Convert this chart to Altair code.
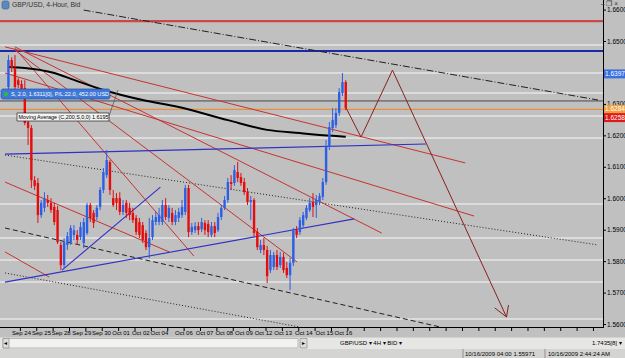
import altair as alt
import pandas as pd

FONT = "Liberation Sans"

# ---------------- data ----------------
bar_index = list(range(104))
opens = [1.6355, 1.6441, 1.6416, 1.6377, 1.6365, 1.6352, 1.6244, 1.6225, 1.6059, 1.6050,
         1.5948, 1.5971, 1.5996, 1.5987, 1.5974, 1.5964, 1.5853, 1.5789, 1.5853, 1.5862,
         1.5885, 1.5885, 1.5878, 1.5859, 1.5891, 1.5980, 1.5955, 1.5942, 1.5974, 1.6028,
         1.6075, 1.6117, 1.6002, 1.6002, 1.6002, 1.5958, 1.5987, 1.5971, 1.5955, 1.5939,
         1.5926, 1.5916, 1.5891, 1.5846, 1.5878, 1.5926, 1.5926, 1.5926, 1.5980, 1.5939,
         1.5955, 1.5926, 1.5939, 1.5948, 1.5958, 1.6034, 1.5894, 1.5900, 1.5913, 1.5903,
         1.5923, 1.5920, 1.5885, 1.5913, 1.5900, 1.5942, 1.5971, 1.5996, 1.6053, 1.6050,
         1.6085, 1.6069, 1.6053, 1.6021, 1.5990, 1.5996, 1.5894, 1.5837, 1.5853, 1.5837,
         1.5773, 1.5783, 1.5821, 1.5789, 1.5815, 1.5780, 1.5757, 1.5796, 1.5900, 1.5894,
         1.5916, 1.5939, 1.5964, 1.5990, 1.5980, 1.5990, 1.6006, 1.6053, 1.6165, 1.6225,
         1.6234, 1.6273, 1.6336, 1.6371]
highs = [1.6457, 1.6450, 1.6457, 1.6384, 1.6377, 1.6377, 1.6257, 1.6234, 1.6072, 1.6066,
         1.5996, 1.6021, 1.6012, 1.6002, 1.5987, 1.5977, 1.5862, 1.5875, 1.5894, 1.5916,
         1.5916, 1.5900, 1.5926, 1.5939, 1.5987, 1.5987, 1.5964, 1.5980, 1.6037, 1.6098,
         1.6155, 1.6123, 1.6028, 1.6018, 1.6021, 1.5996, 1.5996, 1.5987, 1.5971, 1.5948,
         1.5939, 1.5926, 1.5900, 1.5939, 1.5948, 1.5958, 1.5971, 1.5996, 1.6002, 1.5980,
         1.5971, 1.5964, 1.5971, 1.5996, 1.6044, 1.6044, 1.5923, 1.5926, 1.5926, 1.5939,
         1.5932, 1.5932, 1.5926, 1.5926, 1.5955, 1.5980, 1.6009, 1.6066, 1.6075, 1.6107,
         1.6117, 1.6082, 1.6066, 1.6034, 1.6009, 1.6002, 1.5907, 1.5869, 1.5875, 1.5850,
         1.5837, 1.5831, 1.5837, 1.5831, 1.5828, 1.5799, 1.5812, 1.5907, 1.5913, 1.5942,
         1.5958, 1.5980, 1.6002, 1.6018, 1.6012, 1.6018, 1.6066, 1.6187, 1.6244, 1.6288,
         1.6288, 1.6352, 1.6400, 1.6377]
lows = [1.6346, 1.6403, 1.6346, 1.6352, 1.6340, 1.6234, 1.6171, 1.6034, 1.6028, 1.5923,
        1.5939, 1.5958, 1.5974, 1.5955, 1.5916, 1.5856, 1.5773, 1.5780, 1.5837, 1.5853,
        1.5869, 1.5853, 1.5869, 1.5843, 1.5885, 1.5926, 1.5907, 1.5932, 1.5964, 1.6018,
        1.6066, 1.6012, 1.5974, 1.5964, 1.5948, 1.5948, 1.5939, 1.5932, 1.5923, 1.5885,
        1.5875, 1.5859, 1.5837, 1.5811, 1.5869, 1.5916, 1.5916, 1.5916, 1.5932, 1.5926,
        1.5916, 1.5916, 1.5926, 1.5939, 1.5948, 1.5878, 1.5885, 1.5891, 1.5885, 1.5894,
        1.5885, 1.5878, 1.5878, 1.5878, 1.5894, 1.5932, 1.5964, 1.5987, 1.6028, 1.6041,
        1.6053, 1.6041, 1.6012, 1.5980, 1.5932, 1.5881, 1.5837, 1.5827, 1.5821, 1.5732,
        1.5764, 1.5773, 1.5773, 1.5780, 1.5764, 1.5748, 1.5710, 1.5786, 1.5875, 1.5885,
        1.5907, 1.5932, 1.5958, 1.5942, 1.5939, 1.5980, 1.5996, 1.6044, 1.6155, 1.6212,
        1.6225, 1.6263, 1.6327, 1.6282]
closes = [1.6441, 1.6416, 1.6355, 1.6362, 1.6349, 1.6241, 1.6225, 1.6059, 1.6041, 1.5948,
          1.5987, 1.6002, 1.5987, 1.5964, 1.5926, 1.5862, 1.5789, 1.5862, 1.5881, 1.5907,
          1.5900, 1.5869, 1.5910, 1.5926, 1.5980, 1.5939, 1.5923, 1.5971, 1.6028, 1.6085,
          1.6123, 1.6028, 1.5980, 1.5987, 1.5958, 1.5980, 1.5955, 1.5948, 1.5932, 1.5894,
          1.5885, 1.5869, 1.5846, 1.5875, 1.5932, 1.5942, 1.5948, 1.5980, 1.5942, 1.5971,
          1.5926, 1.5948, 1.5958, 1.5974, 1.6034, 1.5894, 1.5910, 1.5913, 1.5900, 1.5926,
          1.5900, 1.5894, 1.5913, 1.5891, 1.5942, 1.5971, 1.5996, 1.6053, 1.6047, 1.6091,
          1.6066, 1.6050, 1.6021, 1.5990, 1.5996, 1.5891, 1.5846, 1.5853, 1.5837, 1.5754,
          1.5821, 1.5821, 1.5783, 1.5815, 1.5773, 1.5757, 1.5796, 1.5900, 1.5885, 1.5932,
          1.5948, 1.5971, 1.5987, 1.5974, 1.5996, 1.6009, 1.6053, 1.6165, 1.6228, 1.6250,
          1.6273, 1.6339, 1.6371, 1.6288]

# moving average (200, simple)
ma_index = [0, 5, 14, 20, 29, 41, 52, 67, 79, 89, 99, 103]
ma_value = [1.6419, 1.6416, 1.6400, 1.6378, 1.6346, 1.6314, 1.6292, 1.6250, 1.6219, 1.6209, 1.6200, 1.6197]

# date labels on the time axis (bar position of each label)
date_labels = ["Sep 24", "Sep 25", "Sep 28", "Sep 29", "Sep 30", "Oct 01", "Oct 02", "Oct 04",
               "Oct 06", "Oct 07", "Oct 08", "Oct 09", "Oct 12", "Oct 13", "Oct 14", "Oct 15", "Oct 16"]
date_pos = [4.0, 10.1, 16.1, 22.4, 28.4, 34.4, 40.4, 46.1, 53.6, 59.9, 65.9, 71.9, 77.9, 83.9, 90.2, 96.5, 102.3]

price_ticks = [1.56, 1.57, 1.58, 1.59, 1.60, 1.61, 1.62, 1.63, 1.64, 1.65, 1.66]
# 1.6400 is hidden under the bid box in the reference
price_labels = [1.56, 1.57, 1.58, 1.59, 1.60, 1.61, 1.62, 1.63, 1.65, 1.66]

# light horizontal lines
light_levels = [1.6489, 1.6400, 1.6336, 1.6263, 1.6193, 1.5983, 1.5875, 1.5805, 1.5735, 1.5618]
# coloured horizontal lines
level_price = [1.6565, 1.6470, 1.6311, 1.6284]
level_color = ["#cc4848", "#1c2aa8", "#4a4a4a", "#e8913a"]
level_width = [2.2, 2.0, 1.0, 1.3]

# red trend lines (bar index, price) -> (bar index, price)
red_x1 = [-1.05, -1.05, 1.95, 1.95, -1.05, -1.05, 1.95]
red_p1 = [1.6483, 1.6400, 1.6483, 1.6479, 1.6053, 1.5831, 1.6473]
red_x2 = [139.49, 142.19, 113.96, 56.61, 49.10, 12.46, 88.14]
red_p2 = [1.6114, 1.5945, 1.5891, 1.5818, 1.5831, 1.5751, 1.5799]

# blue trend lines
blue_x1 = [-1.05, -1.05, 16.37]
blue_p1 = [1.6142, 1.5735, 1.5773]
blue_x2 = [127.48, 105.56, 46.40]
blue_p2 = [1.6174, 1.5936, 1.6037]

# black channel lines
dd_x1 = [22.97]; dd_p1 = [1.6600]; dd_x2 = [180.03]; dd_p2 = [1.6314]          # dash-dot
dot_x1 = [-1.05, -1.05]; dot_p1 = [1.6139, 1.5764]
dot_x2 = [180.03, 89.04]; dot_p2 = [1.5853, 1.5592]                              # dotted
dash_x1 = [-1.05]; dash_p1 = [1.5907]; dash_x2 = [133.18]; dash_p2 = [1.5589]  # dashed

# projected path (brown zig-zag with arrow)
proj_x = [103.15, 107.66, 117.27, 152.10]
proj_p = [1.6288, 1.6196, 1.6409, 1.5624]
barb_x2 = [148.50, 152.70]
barb_p2 = [1.5653, 1.5662]

# price boxes on the right scale
box_price = [1.6397, 1.6284, 1.6258]
box_text = ["1.6397[3]", "1.6284[4]", "1.6258[0]"]
box_color = ["#3a6fe0", "#f0a040", "#e01818"]

# ---------------- frames ----------------
cdf = pd.DataFrame({"i": bar_index, "o": opens, "h": highs, "l": lows, "c": closes})
cdf["dir"] = ["up" if c >= o else "down" for o, c in zip(opens, closes)]
ma_df = pd.DataFrame({"i": ma_index, "v": ma_value})
date_df = pd.DataFrame({"i": date_pos, "t": date_labels})
light_df = pd.DataFrame({"p": light_levels})
lvl_df = pd.DataFrame({"p": level_price, "col": level_color, "w": level_width})
red_df = pd.DataFrame({"x1": red_x1, "p1": red_p1, "x2": red_x2, "p2": red_p2})
blue_df = pd.DataFrame({"x1": blue_x1, "p1": blue_p1, "x2": blue_x2, "p2": blue_p2})
dd_df = pd.DataFrame({"x1": dd_x1, "p1": dd_p1, "x2": dd_x2, "p2": dd_p2})
dot_df = pd.DataFrame({"x1": dot_x1, "p1": dot_p1, "x2": dot_x2, "p2": dot_p2})
dash_df = pd.DataFrame({"x1": dash_x1, "p1": dash_p1, "x2": dash_x2, "p2": dash_p2})
proj_df = pd.DataFrame({"x": proj_x, "p": proj_p, "k": list(range(len(proj_x)))})
barb_df = pd.DataFrame({"x1": [proj_x[-1]] * 2, "p1": [proj_p[-1]] * 2, "x2": barb_x2, "p2": barb_p2})
half = 0.00142
box_df = pd.DataFrame({"p": box_price, "t": box_text, "col": box_color})
box_df["lo"] = box_df["p"] - half
box_df["hi"] = box_df["p"] + half
ptick_df = pd.DataFrame({"p": price_ticks})
plabel_df = pd.DataFrame({"p": price_labels})
xtick_df = pd.DataFrame({"i": [3.65 + 5 * k for k in range(0, 36)]})

xs = alt.Scale(domain=[-1.05, 180.03], nice=False, zero=False)
ys = alt.Scale(domain=[1.5589, 1.6632], nice=False, zero=False)
W, H = 603, 328


def X(f):
    return alt.X(f, type="quantitative", scale=xs, axis=None)


def Y(f):
    return alt.Y(f, type="quantitative", scale=ys, axis=None)


def segs(df, color, dash=None, width=1.0):
    kw = dict(color=color, strokeWidth=width, clip=True)
    if dash:
        kw["strokeDash"] = dash
    return alt.Chart(df).mark_rule(**kw).encode(
        x=X("x1"), y=Y("p1"), x2="x2:Q", y2="p2:Q")


one = pd.DataFrame({"k": [0]})


def txt(t, x, y, size=7.0, color="#000000", align="left"):
    return alt.Chart(one).mark_text(align=align, baseline="middle", font=FONT,
                                    fontSize=size, color=color).encode(
        x=alt.value(x), y=alt.value(y), text=alt.value(t))


def box(x, x2, y, y2, fill, stroke=None, r=0, sw=1.0):
    kw = dict(fill=fill, cornerRadius=r)
    if stroke:
        kw["stroke"] = stroke
        kw["strokeWidth"] = sw
    return alt.Chart(one).mark_rect(**kw).encode(
        x=alt.value(x), x2=alt.value(x2), y=alt.value(y), y2=alt.value(y2))


def vrule(x, y, y2, color="#000000", w=1.0):
    return alt.Chart(one).mark_rule(color=color, strokeWidth=w).encode(
        x=alt.value(x), y=alt.value(y), y2=alt.value(y2))


def hrule(x, x2, y, color="#000000", w=1.0):
    return alt.Chart(one).mark_rule(color=color, strokeWidth=w).encode(
        x=alt.value(x), x2=alt.value(x2), y=alt.value(y))


# ---------------- layers ----------------
light = alt.Chart(light_df).mark_rule(color="#e6e6e6", strokeWidth=1.5).encode(y=Y("p"))
levels = alt.Chart(lvl_df).mark_rule().encode(
    y=Y("p"), color=alt.Color("col:N", scale=None),
    strokeWidth=alt.StrokeWidth("w:Q", scale=None))

red_lines = segs(red_df, "#c83232", width=1.0)
blue_lines = segs(blue_df, "#3030c4", width=1.1)
dd_lines = segs(dd_df, "#202020", dash=[7, 2, 1, 2], width=1.0)
dot_lines = segs(dot_df, "#202020", dash=[1, 2], width=1.0)
dash_lines = segs(dash_df, "#202020", dash=[5, 3], width=1.0)

ma_line = alt.Chart(ma_df).mark_line(color="#000000", strokeWidth=2, interpolate="monotone").encode(
    x=X("i"), y=Y("v"))

candle_col = alt.Color("dir:N", scale=alt.Scale(domain=["up", "down"], range=["#2c5fe4", "#e40c0c"]),
                       legend=None)
wicks = alt.Chart(cdf).mark_rule(strokeWidth=1).encode(
    x=X("i"), y=Y("l"), y2="h:Q", color=candle_col)
bodies = alt.Chart(cdf).mark_bar(size=2.4).encode(
    x=X("i"), y=Y("o"), y2="c:Q", color=candle_col)

proj = alt.Chart(proj_df).mark_line(color="#8a2020", strokeWidth=1).encode(
    x=X("x"), y=Y("p"), order="k:Q")
barbs = segs(barb_df, "#8a2020", width=1.0)

# hand-drawn axes (MT4 style)
x_domain = hrule(0, 603, 327.5)
x_ticks = alt.Chart(xtick_df).mark_rule(color="#000000").encode(
    x=X("i"), y=alt.value(328), y2=alt.value(331))
dates = alt.Chart(date_df).mark_text(font=FONT, fontSize=6, color="#000000", baseline="middle").encode(
    x=X("i"), y=alt.value(333), text="t:N")
y_domain = vrule(603.5, 0, 328)
y_ticks = alt.Chart(ptick_df).mark_rule(color="#000000").encode(
    x=alt.value(603), x2=alt.value(606), y=Y("p"))
y_labels = alt.Chart(plabel_df).transform_calculate(
    t="format(datum.p, '.4f') + '[0]'"
).mark_text(align="left", baseline="middle", font=FONT, fontSize=6.5, color="#000000").encode(
    x=alt.value(607), y=Y("p"), text="t:N")

pboxes = alt.Chart(box_df).mark_rect().encode(
    x=alt.value(604), x2=alt.value(625), y=Y("hi"), y2="lo:Q",
    color=alt.Color("col:N", scale=None))
ptexts = alt.Chart(box_df).mark_text(align="left", baseline="middle", font=FONT, fontSize=6.5,
                                     color="#ffffff").encode(
    x=alt.value(605), y=Y("p"), text="t:N")

decor = [
    # title & window controls
    box(2, 9, 1, 9, "#5a8ac0", stroke="#2d5a90", r=2, sw=0.6),
    txt("GBP/USD, 4-Hour, Bid", 12, 5, size=6.8, color="#333333"),
    txt("–  ❐  ×", 601, 4, size=6.5, color="#333333"),
    # order label
    box(1, 110, 89, 99, "#3f78d8", stroke="#1f4fa8", r=2, sw=0.7),
    box(4, 8, 92, 96, "#30c030", r=2),
    txt("S, 2.0, 1.6311[0], P/L:22.0, 452.00 USD", 11, 94.2, size=5.6, color="#ffffff"),
    # moving average label
    box(17, 109, 113, 121, "#f4f4f4", stroke="#000000", sw=0.6),
    txt("Moving Average (C,200,S,0,0) 1.6195", 18.5, 117.2, size=5.4, color="#000000"),
    alt.Chart(one).mark_rule(color="#555555", strokeWidth=0.8).encode(
        x=alt.value(109), x2=alt.value(118), y=alt.value(116), y2=alt.value(90)),
    # toolbar / scrollbar
    box(0, 625, 337.5, 349, "#e6e6e4"),
    box(3, 298, 338.5, 348, "#f2f2f0", stroke="#a0a0a0", sw=0.7),
    box(3, 9, 338.5, 348, "#dcdcdc", stroke="#909090", sw=0.7),
    box(300, 307, 338.5, 348, "#dcdcdc", stroke="#909090", sw=0.7),
    txt("◂", 4, 343.3, size=6),
    txt("▸", 301.5, 343.3, size=6),
    txt("GBP/USD ▾  4H ▾  BID ▾", 340, 343.3, size=6),
    txt("1.7435[8] ▾", 592, 343.3, size=6),
    # status bar
    box(0, 625, 349, 358, "#d4d4d2"),
    vrule(463, 349, 358, color="#909090"),
    vrule(545, 349, 358, color="#909090"),
    txt("10/16/2009 04:00  1.55971", 465, 353.6, size=6),
    txt("10/16/2009 2:44:24 AM", 548, 353.6, size=6),
]

chart = alt.layer(
    light, levels, dot_lines, dash_lines, dd_lines, red_lines, blue_lines, ma_line,
    wicks, bodies, proj, barbs,
    x_domain, x_ticks, dates, y_domain, y_ticks, y_labels,
    pboxes, ptexts, *decor
).properties(
    width=W, height=H,
    padding={"left": 0, "top": 0, "right": 22, "bottom": 30},
    autosize=alt.AutoSizeParams(type="none"),
    background="#c0c0c0",
).configure_view(fill="#c0c0c0", strokeWidth=0)

chart.save("out.html", embed_options={"renderer": "svg", "actions": False})
